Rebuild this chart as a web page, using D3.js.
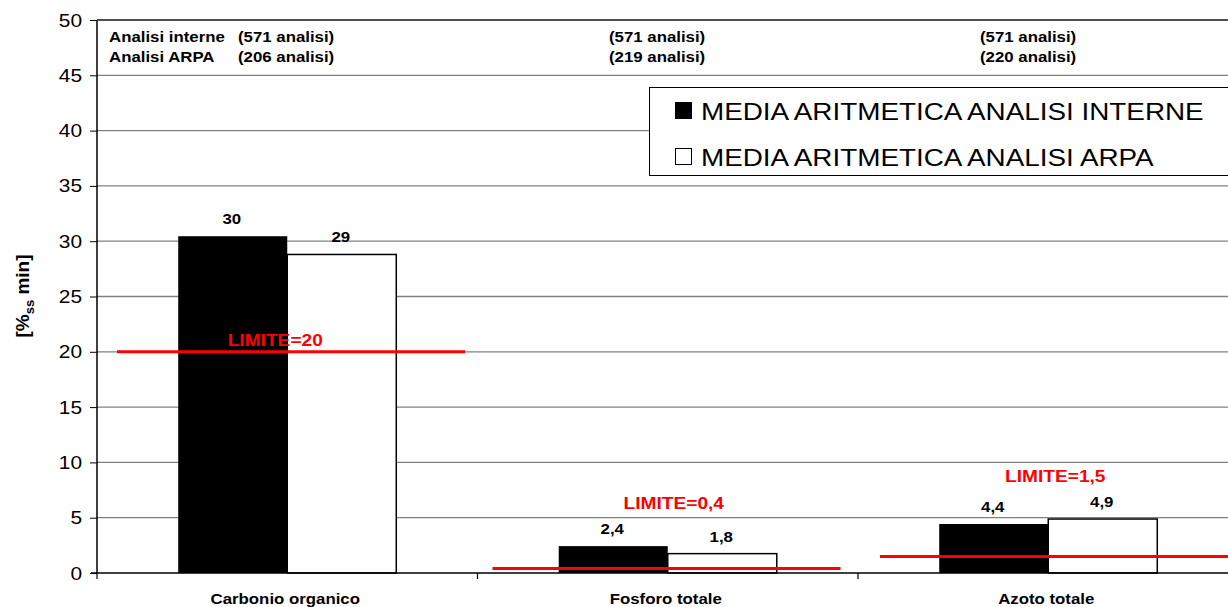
<!DOCTYPE html>
<html><head><meta charset="utf-8">
<script src="https://cdn.jsdelivr.net/npm/d3@7"></script>
<style>body{margin:0;background:#fff}svg{display:block;font-family:"Liberation Sans",Arial,sans-serif}</style>
</head><body>
<svg id="c" width="1228" height="607"></svg>
<script>
const categories = ["Carbonio organico", "Fosforo totale", "Azoto totale"];
const series = ["MEDIA ARITMETICA ANALISI INTERNE", "MEDIA ARITMETICA ANALISI ARPA"];
const interne = [30.45, 2.43, 4.43];
const arpa = [28.8, 1.75, 4.88];
const interneLabels = ["30", "2,4", "4,4"];
const arpaLabels = ["29", "1,8", "4,9"];
const limits = [20, 0.4, 1.5];
const limitLabels = ["LIMITE=20", "LIMITE=0,4", "LIMITE=1,5"];
const countInterne = ["(571 analisi)", "(571 analisi)", "(571 analisi)"];
const countArpa = ["(206 analisi)", "(219 analisi)", "(220 analisi)"];
const yTicks = [0, 5, 10, 15, 20, 25, 30, 35, 40, 45, 50];

const SX = 1.16; // horizontal stretch of glyphs in the reference
const svg = d3.select("#c");
const L = 97, R = 1238.5, T = 20, B = 573;
const x = d3.scaleBand().domain(categories).range([L, R]).padding(0);
const xs = d3.scaleBand().domain(series).range([0, x.bandwidth()]).paddingInner(0).paddingOuter(0.745);
const y = d3.scaleLinear().domain([0, 50]).range([B, T]);

function stext(g, tx, ty, str, size, opts = {}) {
  return g.append("text")
    .attr("transform", `translate(${tx},${ty}) scale(${SX},1)`)
    .attr("text-anchor", opts.anchor || "start")
    .attr("font-size", size)
    .attr("font-weight", opts.bold ? "bold" : "normal")
    .attr("fill", opts.fill || "#000")
    .text(str);
}

// gridlines
svg.append("g").selectAll("line").data(yTicks.filter(d => d > 0)).join("line")
  .attr("x1", L).attr("x2", 1228).attr("y1", d => y(d)).attr("y2", d => y(d))
  .attr("stroke", "#808080").attr("stroke-width", 1.3);

// legend box
const lg = svg.append("g");
lg.append("rect").attr("x", 649.5).attr("y", 87.5).attr("width", 640).attr("height", 88)
  .attr("fill", "#fff").attr("stroke", "#000").attr("stroke-width", 1);
series.forEach((s, i) => {
  lg.append("rect").attr("x", 675.5).attr("y", 102.5 + i * 46).attr("width", 16).attr("height", 16)
    .attr("fill", i === 0 ? "#000" : "#fff").attr("stroke", "#000").attr("stroke-width", 1);
  stext(lg, 701, 119.5 + i * 46, s, 24);
});

// bars
const data = categories.map((c, i) => ({c, vals: [interne[i], arpa[i]], labs: [interneLabels[i], arpaLabels[i]]}));
data.forEach(d => {
  d.vals.forEach((v, j) => {
    const bx = x(d.c) + xs(series[j]);
    svg.append("rect").attr("x", bx).attr("y", y(v)).attr("width", xs.bandwidth()).attr("height", B - y(v))
      .attr("fill", j === 0 ? "#000" : "#fff").attr("stroke", "#000").attr("stroke-width", j === 0 ? 0 : 1.5);
    stext(svg, bx + xs.bandwidth() / 2 - 1, y(v) - 12, d.labs[j], 14.5, {anchor: "middle", bold: true});
  });
});

// axes
svg.append("line").attr("x1", L).attr("x2", L).attr("y1", T).attr("y2", B).attr("stroke", "#000").attr("stroke-width", 1.5);
svg.append("line").attr("x1", L).attr("x2", 1228).attr("y1", T).attr("y2", T).attr("stroke", "#333").attr("stroke-width", 1.3);
svg.append("line").attr("x1", L - 6).attr("x2", 1228).attr("y1", B).attr("y2", B).attr("stroke", "#000").attr("stroke-width", 1.5);
const yAxis = svg.append("g").attr("transform", `translate(${L},0)`)
  .call(d3.axisLeft(y).tickValues(yTicks).tickSize(7).tickFormat(""));
yAxis.select(".domain").remove();
yAxis.selectAll(".tick line").attr("stroke", "#000");
yTicks.forEach(t => stext(svg, 82, y(t) + 6.5, String(t), 18, {anchor: "end"}));

// category boundary ticks
svg.append("g").selectAll("line").data(categories).join("line")
  .attr("x1", d => x(d)).attr("x2", d => x(d)).attr("y1", B).attr("y2", B + 6).attr("stroke", "#000").attr("stroke-width", 1.2);

// category labels
categories.forEach(c => stext(svg, x(c) + x.bandwidth() / 2 - 2, 604, c, 14.5, {anchor: "middle", bold: true}));

// limit lines
const limOff = [20, 15, 22];
categories.forEach((c, i) => {
  svg.append("line").attr("x1", x(c) + limOff[i]).attr("x2", x(c) + limOff[i] + 348)
    .attr("y1", y(limits[i])).attr("y2", y(limits[i])).attr("stroke", "#ff0000").attr("stroke-width", 3);
});
const limLabelDx = [-12, 6, 7];
const limLabelY = [346, 509, 482];
categories.forEach((c, i) => {
  stext(svg, x(c) + x.bandwidth() / 2 + limLabelDx[i], limLabelY[i], limitLabels[i], 16.5,
    {anchor: "middle", bold: true, fill: "#ff0000"});
});

// header counts
stext(svg, 109, 41.5, "Analisi interne", 14.5, {bold: true});
stext(svg, 109, 62, "Analisi ARPA", 14.5, {bold: true});
const hx = [238, 609, 980];
categories.forEach((c, i) => {
  stext(svg, hx[i], 41.5, countInterne[i], 14.5, {bold: true});
  stext(svg, hx[i], 62, countArpa[i], 14.5, {bold: true});
});

// y title
const yt = svg.append("text").attr("transform", "translate(29,296) rotate(-90)").attr("text-anchor", "middle")
  .attr("font-size", 19).attr("font-weight", "bold");
yt.append("tspan").text("[%");
yt.append("tspan").attr("font-size", 13).attr("dy", 5).text("ss");
yt.append("tspan").attr("dy", -5).text(" min]");
</script>
</body></html>
